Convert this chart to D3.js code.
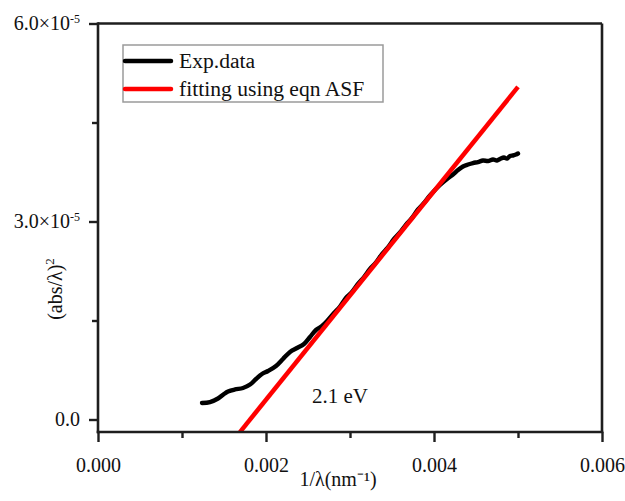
<!DOCTYPE html>
<html>
<head>
<meta charset="utf-8">
<script src="https://cdn.jsdelivr.net/npm/d3@7/dist/d3.min.js"></script>
<style>
  html, body { margin: 0; padding: 0; background: #fff; }
  svg { display: block; font-family: "Liberation Serif", "Times New Roman", serif; }
</style>
</head>
<body>
<svg id="chart" width="625" height="501"></svg>
<script>
// ---- data ----
const expX = [0.001238, 0.001333, 0.001429, 0.001500, 0.001548, 0.001631, 0.001726, 0.001810,
  0.001881, 0.001952, 0.002024, 0.002119, 0.002202, 0.002286, 0.002369, 0.002452, 0.002524,
  0.002595, 0.002667, 0.002738, 0.002810, 0.002881, 0.002952, 0.003024, 0.003095, 0.003167,
  0.003238, 0.003310, 0.003381, 0.003452, 0.003524, 0.003595, 0.003667, 0.003738, 0.003810,
  0.003881, 0.003952, 0.004071, 0.004155, 0.004226, 0.004286, 0.004345, 0.004405, 0.004464,
  0.004524, 0.004583, 0.004643, 0.004702, 0.004750, 0.004786, 0.004833, 0.004869, 0.004905,
  0.004940, 0.004976, 0.005000];
const expY = [0.250e-5, 0.265e-5, 0.318e-5, 0.386e-5, 0.424e-5, 0.455e-5, 0.477e-5, 0.530e-5,
  0.614e-5, 0.689e-5, 0.735e-5, 0.811e-5, 0.917e-5, 1.023e-5, 1.083e-5, 1.144e-5, 1.250e-5,
  1.356e-5, 1.417e-5, 1.507e-5, 1.613e-5, 1.712e-5, 1.841e-5, 1.932e-5, 2.053e-5, 2.159e-5,
  2.280e-5, 2.379e-5, 2.507e-5, 2.606e-5, 2.735e-5, 2.833e-5, 2.954e-5, 3.053e-5, 3.182e-5,
  3.280e-5, 3.394e-5, 3.553e-5, 3.644e-5, 3.712e-5, 3.780e-5, 3.833e-5, 3.863e-5, 3.886e-5,
  3.901e-5, 3.924e-5, 3.916e-5, 3.939e-5, 3.924e-5, 3.947e-5, 3.969e-5, 3.954e-5, 3.992e-5,
  4.000e-5, 4.015e-5, 4.030e-5];
const fitX = [0.00169, 0.00500];
const fitY = [-0.19e-5, 5.04e-5];

const xTicks = [0, 0.001, 0.002, 0.003, 0.004, 0.005, 0.006];
const xTickLabels = ["0.000", "", "0.002", "", "0.004", "", "0.006"];
const yTicks = [0, 1.5e-5, 3e-5, 4.5e-5, 6e-5];
const yTickMantissa = ["0.0", "", "3.0", "", "6.0"];
const yTickExponent = ["", "", "-5", "", "-5"];
const seriesNames = ["Exp.data", "fitting using eqn ASF"];
const seriesColors = ["#000000", "#ff0000"];
const annotation = { text: "2.1 eV" };
const xTitle = "1/λ(nm⁻¹)";
const yDomain = [-0.1894e-5, 6e-5];
const xDomain = [0, 0.006];

// ---- layout ----
const svg = d3.select("#chart");
const L = 98, R = 602, T = 23.5, B = 432;
const x = d3.scaleLinear().domain(xDomain).range([L, R]);
const y = d3.scaleLinear().domain(yDomain).range([B, T]);
const axisColor = "#1e1e1e";

svg.append("defs").append("clipPath").attr("id", "plotclip")
  .append("rect").attr("x", L).attr("y", T).attr("width", R - L).attr("height", B - T);

// annotation background
svg.append("rect").attr("x", 300).attr("y", 383).attr("width", 83).attr("height", 33).attr("fill", "#fff");

// series
const line = d3.line().x(d => x(d[0])).y(d => y(d[1])).curve(d3.curveCatmullRom.alpha(0.5));
const expData = expX.map((v, i) => [v, expY[i]]);
const fitData = fitX.map((v, i) => [v, fitY[i]]);
const plot = svg.append("g").attr("clip-path", "url(#plotclip)");
plot.append("path").datum(expData).attr("d", line)
  .attr("fill", "none").attr("stroke", seriesColors[0]).attr("stroke-width", 4.4)
  .attr("stroke-linejoin", "round").attr("stroke-linecap", "round");
plot.append("path").datum(fitData).attr("d", d3.line().x(d => x(d[0])).y(d => y(d[1])))
  .attr("fill", "none").attr("stroke", seriesColors[1]).attr("stroke-width", 4.5);

// annotation text
svg.append("text").attr("x", 312).attr("y", 403).attr("font-size", 21).attr("fill", "#111")
  .text(annotation.text);

// frame: top and right
svg.append("line").attr("x1", L).attr("x2", R).attr("y1", T).attr("y2", T)
  .attr("stroke", axisColor).attr("stroke-width", 2.6);
svg.append("line").attr("x1", R).attr("x2", R).attr("y1", T).attr("y2", B)
  .attr("stroke", axisColor).attr("stroke-width", 2.6);

// x axis
const gx = svg.append("g").attr("transform", `translate(0,${B})`)
  .call(d3.axisBottom(x).tickValues(xTicks).tickSizeOuter(0)
    .tickFormat((d, i) => xTickLabels[i]));
gx.select(".domain").attr("stroke", axisColor).attr("stroke-width", 2.6)
  .attr("d", `M${L - 1.3},0H${R + 1.3}`);
gx.selectAll(".tick line").attr("stroke", axisColor).attr("stroke-width", 2.4)
  .attr("y2", (d, i) => i % 2 === 0 ? 10 : 6);
gx.selectAll(".tick text").attr("y", 40).attr("dy", 0).attr("font-size", 20)
  .attr("fill", "#111").attr("font-family", "Liberation Serif, serif");

// y axis
const gy = svg.append("g").attr("transform", `translate(${L},0)`)
  .call(d3.axisLeft(y).tickValues(yTicks).tickSizeOuter(0).tickFormat(() => ""));
gy.select(".domain").attr("stroke", axisColor).attr("stroke-width", 2.6)
  .attr("d", `M0,${T - 1.3}V${B + 1.3}`);
gy.selectAll(".tick line").attr("stroke", axisColor).attr("stroke-width", 2.4)
  .attr("x2", (d, i) => i % 2 === 0 ? -9 : -6);
gy.selectAll(".tick text").each(function (d, i) {
  const t = d3.select(this).attr("x", -18).attr("dy", 0).attr("y", 6)
    .attr("font-size", 20).attr("fill", "#111").attr("text-anchor", "end")
    .attr("font-family", "Liberation Serif, serif");
  t.text(null);
  if (!yTickMantissa[i]) return;
  if (yTickExponent[i]) {
    t.append("tspan").text(yTickMantissa[i] + "×10");
    t.append("tspan").attr("font-size", 12).attr("dy", -7).text(yTickExponent[i]);
  } else {
    t.append("tspan").text(yTickMantissa[i]);
  }
});

// axis titles
svg.append("text").attr("x", 338).attr("y", 486).attr("text-anchor", "middle")
  .attr("font-size", 20).attr("fill", "#111").text(xTitle);
const yt = svg.append("text").attr("transform", "translate(62,289) rotate(-90)")
  .attr("text-anchor", "middle").attr("font-size", 20).attr("fill", "#111");
yt.append("tspan").text("(abs/λ)");
yt.append("tspan").attr("font-size", 13).attr("dy", -8).text("2");

// legend
const lg = svg.append("g");
lg.append("rect").attr("x", 123).attr("y", 45).attr("width", 260).attr("height", 57)
  .attr("fill", "#fff").attr("stroke", "#9a9a9a").attr("stroke-width", 1.5);
const legY = [61, 89];
seriesNames.forEach((name, i) => {
  lg.append("line").attr("x1", 125).attr("x2", 171).attr("y1", legY[i]).attr("y2", legY[i])
    .attr("stroke", seriesColors[i]).attr("stroke-width", 4.5).attr("stroke-linecap", "round");
  lg.append("text").attr("x", 179).attr("y", legY[i] + 6.5).attr("font-size", 21.6)
    .attr("fill", "#111").text(name);
});
</script>
</body>
</html>
